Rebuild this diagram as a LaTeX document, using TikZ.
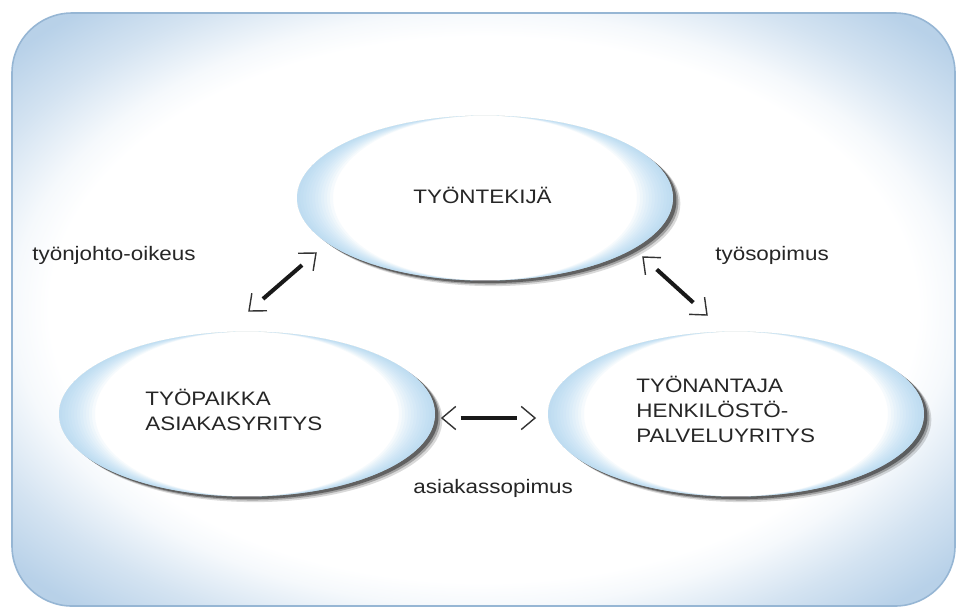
\documentclass[tikz,border=0pt]{standalone}
\usepackage{fontspec}
\setmainfont{Liberation Sans}[FakeStretch=1.15]
\usetikzlibrary{calc,shapes.geometric,shadows}

\definecolor{reunasini}{RGB}{150,182,212}
\definecolor{hehku}{RGB}{176,204,230}
\definecolor{kuplasini}{RGB}{165,210,240}
\definecolor{tekstiharmaa}{RGB}{38,38,38}

\pgfdeclareradialshading{hehkuvarjo}{\pgfpoint{0bp}{0bp}}{color(0bp)=(white); color(23bp)=(white); color(25bp)=(hehku!12!white); color(29bp)=(hehku!55!white); color(33bp)=(hehku!90!white); color(50bp)=(hehku)}

\tikzset{
  kupla/.style={ellipse, minimum width=7.52cm, minimum height=3.3cm, fill=white,
    drop shadow={shadow xshift=4.2pt, shadow yshift=-3.2pt, opacity=.15, fill=black},
    drop shadow={shadow xshift=3.1pt, shadow yshift=-2.3pt, opacity=.25, fill=black},
    drop shadow={shadow xshift=2pt, shadow yshift=-1.5pt, opacity=.4, fill=black}},
  otsikko/.style={inner sep=0pt, anchor=west, align=left, text=tekstiharmaa,
    font=\fontsize{11.1}{14.2}\selectfont},
  varsi/.style={line width=2.3pt, draw=black!90, shorten <=3.7mm, shorten >=3.7mm},
  karkiviiva/.style={line width=0.8pt, draw=black!80}
}

% sininen reuna kuplan vasempaan ja oikeaan päähän
\newcommand{\kuplareuna}[1]{%
  \foreach \w in {3,6,...,36} {
    \fill[kuplasini, opacity=0.09, even odd rule]
      (#1.center) ellipse [x radius=3.76cm, y radius=1.65cm]
      (#1.center) ellipse [x radius={3.76cm-\w*0.02cm}, y radius=1.65cm];
  }
}

% kaksisuuntainen nuoli: paksu varsi, irralliset kärjet
\newcommand{\suhde}[2]{%
  \draw[varsi] (#1) -- (#2);
  \draw[karkiviiva] ($(#1)!3.6mm!40:(#2)$) -- (#1) -- ($(#1)!3.6mm!-40:(#2)$);
  \draw[karkiviiva] ($(#2)!3.6mm!40:(#1)$) -- (#2) -- ($(#2)!3.6mm!-40:(#1)$);
}

\begin{document}
\begin{tikzpicture}[x=0.02cm, y=-0.02cm]
  \useasboundingbox (0,0) rectangle (960,610);

  % tausta
  \shadedraw[shading=hehkuvarjo, draw=reunasini, line width=0.9pt, rounded corners=1.2cm] (12,13) rectangle (955,606);

  % kuplat
  \node[kupla] (tekija) at (485,198) {};
  \node[kupla] (paikka) at (247,414) {};
  \node[kupla] (antaja) at (736,414) {};
  \kuplareuna{tekija}
  \kuplareuna{paikka}
  \kuplareuna{antaja}

  % tekstit kuplissa
  \node[otsikko] (tekija-t) at (413,195) {TYÖNTEKIJÄ};
  \node[otsikko] (paikka-t) at (145,410) {TYÖPAIKKA\\ASIAKASYRITYS};
  \node[otsikko] (antaja-t) at (636,409) {TYÖNANTAJA\\HENKILÖSTÖ-\\PALVELUYRITYS};

  % suhteet
  \node[otsikko] (johto) at (32,255) {työnjohto-oikeus};
  \node[otsikko] (tyosop) at (715,255) {työsopimus};
  \node[otsikko] (asiakas) at (413,488) {asiakassopimus};

  % nuolet
  \coordinate (johto-a) at (249,311);
  \coordinate (johto-b) at (316,253);
  \suhde{johto-a}{johto-b}

  \coordinate (tyosop-a) at (643,257);
  \coordinate (tyosop-b) at (707,315);
  \suhde{tyosop-a}{tyosop-b}

  \coordinate (asiakas-a) at (442,418);
  \coordinate (asiakas-b) at (535,418);
  \suhde{asiakas-a}{asiakas-b}
\end{tikzpicture}
\end{document}
